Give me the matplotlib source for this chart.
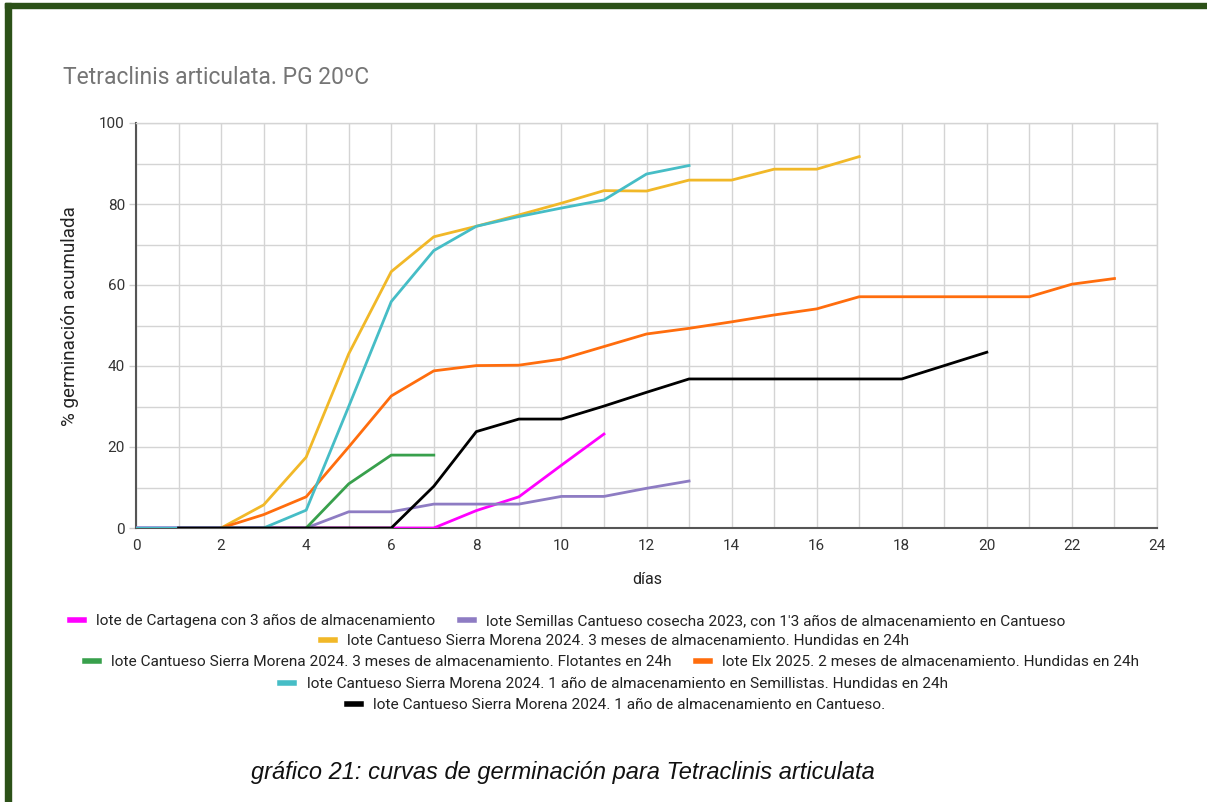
import matplotlib
matplotlib.use("Agg")
import matplotlib.pyplot as plt
from matplotlib.lines import Line2D
from matplotlib.patches import Rectangle

plt.rcParams['font.family'] = ['Roboto', 'DejaVu Sans']

# datos
dias_magenta = [0, 1, 2, 3, 4, 5, 6, 7, 8, 9, 10, 11]
pg_magenta = [0, 0, 0, 0, 0, 0, 0, 0, 4.3, 7.7, 15.5, 23.2]

dias_morado = [0, 1, 2, 3, 4, 5, 6, 7, 8, 9, 10, 11, 12, 13]
pg_morado = [0, 0, 0, 0, 0, 4.0, 4.0, 5.9, 5.9, 5.9, 7.8, 7.8, 9.8, 11.6]

dias_amarillo = [2, 3, 4, 5, 6, 7, 8, 9, 10, 11, 12, 13, 14, 15, 16, 17]
pg_amarillo = [0, 5.7, 17.5, 43, 63.3, 71.9, 74.5, 77.3, 80.2, 83.3, 83.2, 85.9, 85.9, 88.6, 88.6, 91.7]

dias_verde = [4, 5, 6, 7]
pg_verde = [0, 10.9, 18, 18]

dias_naranja = [2, 3, 4, 5, 6, 7, 8, 9, 10, 11, 12, 13, 14, 15, 16, 17, 18, 19, 20, 21, 22, 23]
pg_naranja = [0, 3.3, 7.7, 20, 32.6, 38.8, 40.1, 40.2, 41.7, 44.8, 47.9, 49.3, 50.9, 52.6, 54.1, 57.1,
              57.1, 57.1, 57.1, 57.1, 60.2, 61.6]

dias_turquesa = [0, 1, 2, 3, 4, 5, 6, 7, 8, 9, 10, 11, 12, 13]
pg_turquesa = [0, 0, 0, 0, 4.4, 30, 55.9, 68.5, 74.5, 76.9, 79.0, 81.0, 87.4, 89.5]

dias_negro = [1, 2, 3, 4, 5, 6, 7, 8, 9, 10, 11, 12, 13, 14, 15, 16, 17, 18, 19, 20]
pg_negro = [0, 0, 0, 0, 0, 0, 10.3, 23.8, 26.9, 26.9, 30.1, 33.5, 36.8, 36.8, 36.8, 36.8, 36.8, 36.8,
            40.1, 43.4]

nombres = [
    "lote de Cartagena con 3 años de almacenamiento",
    "lote Semillas Cantueso cosecha 2023, con 1'3 años de almacenamiento en Cantueso",
    "lote Cantueso Sierra Morena 2024. 3 meses de almacenamiento. Hundidas en 24h",
    "lote Cantueso Sierra Morena 2024. 3 meses de almacenamiento. Flotantes en 24h",
    "lote Elx 2025. 2 meses de almacenamiento. Hundidas en 24h",
    "lote Cantueso Sierra Morena 2024. 1 año de almacenamiento en Semillistas. Hundidas en 24h",
    "lote Cantueso Sierra Morena 2024. 1 año de almacenamiento en Cantueso.",
]
colores = ["#ff00ff", "#8e7cc3", "#f1b828", "#38a04c", "#ff6d0d", "#46bdc6", "#000000"]

series = [(dias_magenta, pg_magenta), (dias_morado, pg_morado), (dias_amarillo, pg_amarillo),
          (dias_verde, pg_verde), (dias_naranja, pg_naranja), (dias_turquesa, pg_turquesa),
          (dias_negro, pg_negro)]

W, H = 1207, 802
fig = plt.figure(figsize=(W / 100, H / 100), dpi=100)
ax = fig.add_axes([136 / W, 1 - 528 / H, (1157 - 136) / W, (528 - 123) / H])

for (x, y), c in zip(series, colores):
    ax.plot(x, y, color=c, lw=2.0, solid_joinstyle='round', zorder=3)

ax.set_xlim(0, 24)
ax.set_ylim(0, 100)
ax.set_xticks(range(0, 25, 2))
ax.set_xticks(range(0, 25), minor=True)
ax.set_yticks(range(0, 101, 20))
ax.set_yticks(range(0, 101, 10), minor=True)
ax.grid(True, which='both', color='#d4d4d4', lw=1.0, zorder=0)
ax.tick_params(axis='x', which='both', length=0, pad=8, labelsize=11, labelcolor='#333333')
ax.tick_params(axis='y', which='major', length=5, width=1, color='#cccccc', pad=3,
               labelsize=11, labelcolor='#333333')
ax.tick_params(axis='y', which='minor', length=0)
for s in ['top', 'right']:
    ax.spines[s].set_color('#d4d4d4')
    ax.spines[s].set_linewidth(1.0)
for s in ['left', 'bottom']:
    ax.spines[s].set_color('#555555')
    ax.spines[s].set_linewidth(1.5)

fig.text(647 / W, 1 - 580 / H, "días", ha='center', va='center', fontsize=11.5, color='#222222')
fig.text(70 / W, 1 - 316 / H, "% germinación acumulada", ha='center', va='center', rotation=90,
         fontsize=13.5, color='#222222')

fig.text(63 / W, 1 - 77 / H, "Tetraclinis articulata. PG 20ºC", ha='left', va='center',
         fontsize=16.5, color='#757575')

# leyenda en filas como en el original
filas = [([0, 1], 568, 621), ([2], 615, 641), ([3, 4], 612, 662), ([5], 614, 684), ([6], 616, 705)]
for idx, cx, cy in filas:
    hs = [Line2D([0], [0], color=colores[i], lw=4) for i in idx]
    ls = [nombres[i] for i in idx]
    fig.legend(hs, ls, loc='center', bbox_to_anchor=(cx / W, 1 - cy / H), ncol=len(idx),
               frameon=False, fontsize=11.1, handlelength=0.9, handletextpad=0.8,
               columnspacing=1.6, borderpad=0, labelcolor='#222222')

fig.text(563 / W, 1 - 773 / H, "gráfico 21: curvas de germinación para Tetraclinis articulata",
         ha='center', va='center', fontsize=17, style='italic', color='#111111',
         family=['Liberation Sans Narrow', 'Liberation Sans'])

# marco verde
verde = '#2c5118'
fig.patches.append(Rectangle((5 / W, 0), 6 / W, 1 - 3 / H, transform=fig.transFigure,
                             color=verde, zorder=10))
fig.patches.append(Rectangle((5 / W, 1 - 8 / H), 1 - 5 / W, 5 / H, transform=fig.transFigure,
                             color=verde, zorder=10))

fig.savefig("out.png", dpi=100)
